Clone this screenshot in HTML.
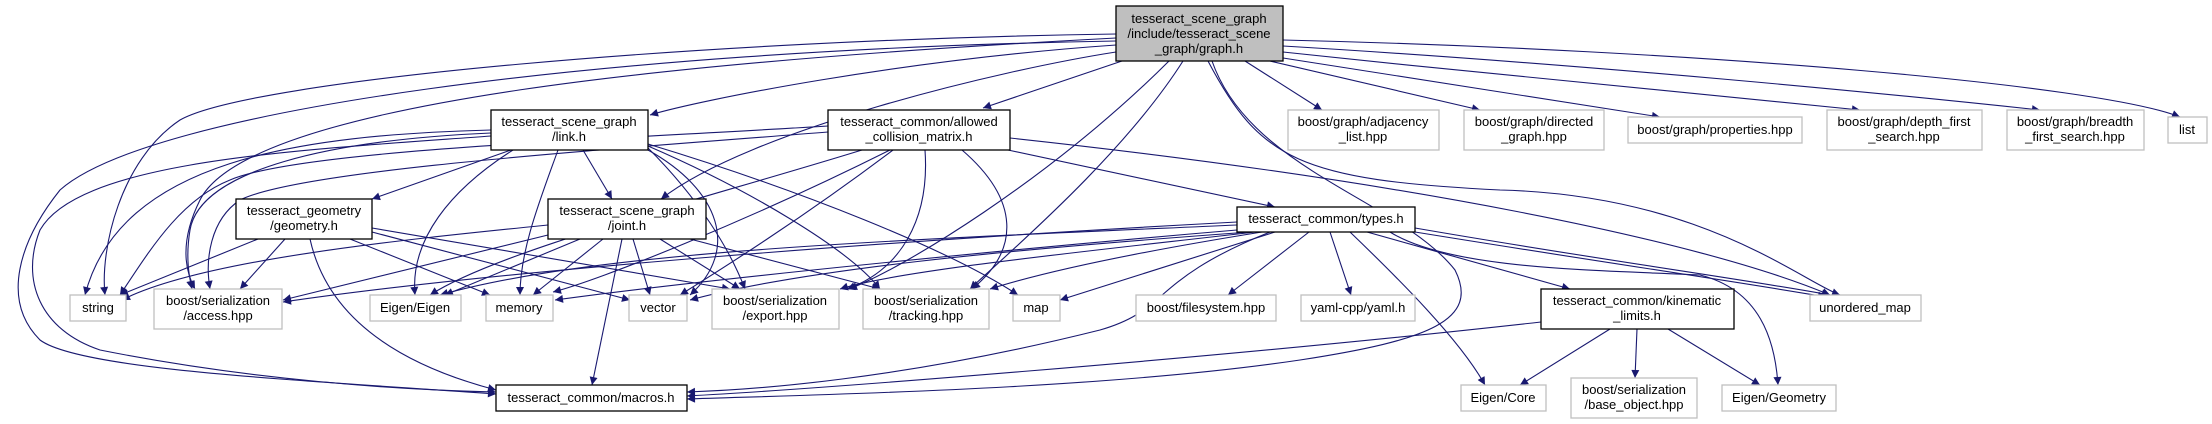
<!DOCTYPE html>
<html><head><meta charset="utf-8"><style>
html,body{margin:0;padding:0;background:#fff}
svg{display:block}
text{font-family:"Liberation Sans",Arial,sans-serif;font-size:13px;fill:#000}
.e{fill:none;stroke:#191970;stroke-width:1.1}
.n{fill:#fff;stroke:#000;stroke-width:1.3}
.x{fill:#fff;stroke:#bfbfbf;stroke-width:1.3}
</style></head><body>
<svg width="2212" height="424" viewBox="0 0 2212 424" xmlns="http://www.w3.org/2000/svg">
<defs><marker id="a" viewBox="0 0 10 10" refX="10" refY="5" markerWidth="10" markerHeight="8" markerUnits="userSpaceOnUse" orient="auto"><path d="M0,0 L10,5 L0,10 z" fill="#191970"/></marker></defs>
<g class="e" marker-end="url(#a)">
<!-- graph.h -->
<path d="M1283,40 C1700,50 2100,85 2180,117"/>
<path d="M1283,46 C1600,65 1900,95 2040,110"/>
<path d="M1283,52 C1500,75 1750,100 1860,110"/>
<path d="M1283,58 C1450,85 1580,105 1660,117"/>
<path d="M1270,61 L1480,110"/>
<path d="M1245,61 L1322,110"/>
<path d="M1122,61 L983,108"/>
<path d="M1116,45 C900,60 700,100 650,115"/>
<path d="M1116,52 C1000,70 750,130 661,199"/>
<path d="M1116,34 C700,40 250,80 180,120 C120,160 100,250 105,295"/>
<path d="M1116,38 C700,60 250,100 200,200 C175,250 190,280 195,289"/>
<path d="M1116,41 C600,50 150,110 60,190 C20,240 0,300 40,340 C80,370 300,380 496,394"/>
<path d="M1169,61 C1050,180 900,270 849,289"/>
<path d="M1183,61 C1120,160 1000,260 970,289"/>
<path d="M1208,61 C1260,160 1300,180 1500,190 C1700,195 1800,280 1840,295"/>
<path d="M1212,61 C1250,170 1400,200 1455,270 C1480,320 1430,340 1300,360 C1100,390 800,395 687,399"/>
<!-- allowed -->
<path d="M828,126 C600,140 300,150 230,180 C180,200 150,250 120,295"/>
<path d="M828,132 C600,150 300,170 240,200 C210,220 205,260 210,289"/>
<path d="M862,150 C700,200 500,250 430,295"/>
<path d="M890,150 C750,220 600,280 553,292"/>
<path d="M893,150 C800,220 720,270 680,295"/>
<path d="M925,150 C930,220 900,270 847,289"/>
<path d="M962,150 C1020,200 1020,250 972,289"/>
<path d="M1010,138 C1400,180 1700,240 1830,295"/>
<path d="M1008,150 L1275,207"/>
<!-- link.h -->
<path d="M491,130 C300,135 120,160 85,295"/>
<path d="M491,133 C330,140 200,170 190,230 C185,260 190,280 192,289"/>
<path d="M491,136 C300,150 80,160 40,230 C20,280 40,330 100,350 C250,380 400,390 496,392"/>
<path d="M511,150 L372,199"/>
<path d="M513,150 C450,190 410,240 415,295"/>
<path d="M558,150 C540,200 520,250 520,295"/>
<path d="M583,150 L612,199"/>
<path d="M648,150 C720,190 740,250 690,295"/>
<path d="M648,148 C700,200 730,250 745,289"/>
<path d="M648,146 C750,190 850,250 880,289"/>
<path d="M648,144 C800,190 950,250 1018,295"/>
<!-- geometry -->
<path d="M258,239 L120,295"/>
<path d="M285,239 L240,289"/>
<path d="M310,239 C330,330 420,370 496,390"/>
<path d="M350,239 L490,295"/>
<path d="M372,232 L630,300"/>
<path d="M372,228 L730,289"/>
<!-- joint -->
<path d="M548,225 C400,240 200,260 122,300"/>
<path d="M548,235 L283,300"/>
<path d="M580,239 L445,295"/>
<path d="M603,239 L533,295"/>
<path d="M622,239 L592,385"/>
<path d="M633,239 L650,295"/>
<path d="M660,239 L740,289"/>
<path d="M690,239 L880,289"/>
<!-- types -->
<path d="M1237,222 C900,240 500,270 283,302"/>
<path d="M1237,225 C900,240 600,250 440,295"/>
<path d="M1237,230 C1000,250 700,280 555,300"/>
<path d="M1250,232 C1000,250 800,270 690,300"/>
<path d="M1255,232 C1100,250 900,270 840,289"/>
<path d="M1262,232 C1150,250 1050,270 990,289"/>
<path d="M1275,232 L1060,300"/>
<path d="M1309,232 L1228,295"/>
<path d="M1330,232 L1351,295"/>
<path d="M1350,232 C1400,280 1460,340 1485,385"/>
<path d="M1367,232 L1570,289"/>
<path d="M1415,228 C1600,260 1750,280 1830,295"/>
<path d="M1415,232 C1600,262 1740,282 1826,297"/>
<path d="M1390,232 C1450,270 1600,270 1700,275 C1760,290 1775,340 1778,385"/>
<path d="M1270,232 C1150,280 1170,310 1100,330 C900,380 750,390 687,392"/>
<!-- kinematic -->
<path d="M1541,322 C1200,360 800,390 687,396"/>
<path d="M1610,329 L1520,385"/>
<path d="M1637,329 L1635,378"/>
<path d="M1668,329 L1760,385"/>
</g>
<g>
<rect class="n" x="1116" y="6" width="167" height="55" fill="#bfbfbf" style="fill:#bfbfbf"/>
<text x="1199" y="23" text-anchor="middle">tesseract_scene_graph</text>
<text x="1199" y="38" text-anchor="middle">/include/tesseract_scene</text>
<text x="1199" y="53" text-anchor="middle">_graph/graph.h</text>

<rect class="n" x="491" y="110" width="157" height="40"/>
<text x="569" y="126" text-anchor="middle">tesseract_scene_graph</text>
<text x="569" y="141" text-anchor="middle">/link.h</text>

<rect class="n" x="828" y="110" width="182" height="40"/>
<text x="919" y="126" text-anchor="middle">tesseract_common/allowed</text>
<text x="919" y="141" text-anchor="middle">_collision_matrix.h</text>

<rect class="x" x="1288" y="110" width="151" height="40"/>
<text x="1363" y="126" text-anchor="middle">boost/graph/adjacency</text>
<text x="1363" y="141" text-anchor="middle">_list.hpp</text>

<rect class="x" x="1464" y="110" width="140" height="40"/>
<text x="1534" y="126" text-anchor="middle">boost/graph/directed</text>
<text x="1534" y="141" text-anchor="middle">_graph.hpp</text>

<rect class="x" x="1628" y="117" width="174" height="26"/>
<text x="1715" y="134" text-anchor="middle">boost/graph/properties.hpp</text>

<rect class="x" x="1827" y="110" width="155" height="40"/>
<text x="1904" y="126" text-anchor="middle">boost/graph/depth_first</text>
<text x="1904" y="141" text-anchor="middle">_search.hpp</text>

<rect class="x" x="2007" y="110" width="137" height="40"/>
<text x="2075" y="126" text-anchor="middle">boost/graph/breadth</text>
<text x="2075" y="141" text-anchor="middle">_first_search.hpp</text>

<rect class="x" x="2168" y="117" width="39" height="26"/>
<text x="2187" y="134" text-anchor="middle">list</text>

<rect class="n" x="236" y="199" width="136" height="40"/>
<text x="304" y="215" text-anchor="middle">tesseract_geometry</text>
<text x="304" y="230" text-anchor="middle">/geometry.h</text>

<rect class="n" x="548" y="199" width="158" height="40"/>
<text x="627" y="215" text-anchor="middle">tesseract_scene_graph</text>
<text x="627" y="230" text-anchor="middle">/joint.h</text>

<rect class="n" x="1237" y="207" width="178" height="25"/>
<text x="1326" y="223" text-anchor="middle">tesseract_common/types.h</text>

<rect class="x" x="70" y="295" width="56" height="26"/>
<text x="98" y="312" text-anchor="middle">string</text>

<rect class="x" x="154" y="289" width="128" height="40"/>
<text x="218" y="305" text-anchor="middle">boost/serialization</text>
<text x="218" y="320" text-anchor="middle">/access.hpp</text>

<rect class="x" x="370" y="295" width="91" height="26"/>
<text x="415" y="312" text-anchor="middle">Eigen/Eigen</text>

<rect class="x" x="486" y="295" width="67" height="26"/>
<text x="519" y="312" text-anchor="middle">memory</text>

<rect class="x" x="629" y="295" width="58" height="26"/>
<text x="658" y="312" text-anchor="middle">vector</text>

<rect class="x" x="712" y="289" width="127" height="40"/>
<text x="775" y="305" text-anchor="middle">boost/serialization</text>
<text x="775" y="320" text-anchor="middle">/export.hpp</text>

<rect class="x" x="863" y="289" width="126" height="40"/>
<text x="926" y="305" text-anchor="middle">boost/serialization</text>
<text x="926" y="320" text-anchor="middle">/tracking.hpp</text>

<rect class="x" x="1013" y="295" width="47" height="26"/>
<text x="1036" y="312" text-anchor="middle">map</text>

<rect class="x" x="1136" y="295" width="140" height="26"/>
<text x="1206" y="312" text-anchor="middle">boost/filesystem.hpp</text>

<rect class="x" x="1301" y="295" width="114" height="26"/>
<text x="1358" y="312" text-anchor="middle">yaml-cpp/yaml.h</text>

<rect class="n" x="1541" y="289" width="193" height="40"/>
<text x="1637" y="305" text-anchor="middle">tesseract_common/kinematic</text>
<text x="1637" y="320" text-anchor="middle">_limits.h</text>

<rect class="x" x="1810" y="295" width="111" height="26"/>
<text x="1865" y="312" text-anchor="middle">unordered_map</text>

<rect class="n" x="496" y="385" width="191" height="26"/>
<text x="591" y="402" text-anchor="middle">tesseract_common/macros.h</text>

<rect class="x" x="1461" y="385" width="85" height="26"/>
<text x="1503" y="402" text-anchor="middle">Eigen/Core</text>

<rect class="x" x="1571" y="378" width="126" height="40"/>
<text x="1634" y="394" text-anchor="middle">boost/serialization</text>
<text x="1634" y="409" text-anchor="middle">/base_object.hpp</text>

<rect class="x" x="1722" y="385" width="114" height="26"/>
<text x="1779" y="402" text-anchor="middle">Eigen/Geometry</text>
</g>
</svg>
</body></html>
